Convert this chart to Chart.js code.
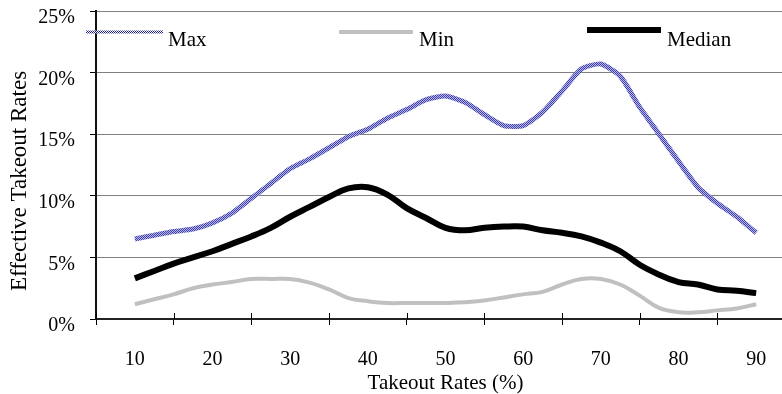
<!DOCTYPE html>
<html>
<head>
<meta charset="utf-8">
<title>Effective Takeout Rates</title>
<script src="https://cdn.jsdelivr.net/npm/chart.js@4.4.1/dist/chart.umd.min.js"></script>
<style>
  html, body { margin: 0; padding: 0; background: #fff; overflow: hidden; }
  canvas { display: block; }
</style>
</head>
<body>
<canvas id="c" width="820" height="394"></canvas>
<script>
// Takeout rate (%) at which each effective rate was sampled
const takeoutRates = [10, 12.5, 15, 17.5, 20, 22.5, 25, 27.5, 30, 32.5, 35, 37.5, 40, 42.5, 45, 47.5,
  50, 52.5, 55, 57.5, 60, 62.5, 65, 67.5, 70, 72.5, 75, 77.5, 80, 82.5, 85, 87.5, 90];

// Effective takeout rates (%)
const maxRates = [6.5, 6.8, 7.1, 7.3, 7.8, 8.6, 9.8, 11.0, 12.2, 13.0, 13.9, 14.8, 15.4, 16.3, 17.0, 17.8,
  18.1, 17.6, 16.6, 15.7, 15.7, 16.8, 18.5, 20.3, 20.7, 19.7, 17.2, 15.0, 12.8, 10.7, 9.4, 8.3, 7.0];
const minRates = [1.2, 1.6, 2.0, 2.5, 2.8, 3.0, 3.25, 3.25, 3.25, 2.95, 2.4, 1.7, 1.45, 1.3, 1.3, 1.3,
  1.3, 1.35, 1.5, 1.75, 2.0, 2.2, 2.8, 3.25, 3.25, 2.8, 1.9, 0.9, 0.55, 0.55, 0.7, 0.85, 1.2];
const medianRates = [3.3, 3.9, 4.5, 5.0, 5.5, 6.1, 6.7, 7.4, 8.3, 9.1, 9.9, 10.6, 10.7, 10.1, 9.0, 8.2,
  7.4, 7.2, 7.4, 7.5, 7.5, 7.2, 7.0, 6.7, 6.2, 5.5, 4.4, 3.6, 3.0, 2.8, 2.4, 2.3, 2.1];

// Axis labels
const xTickLabels = [10, 20, 30, 40, 50, 60, 70, 80, 90];
const yTickValues = [0, 5, 10, 15, 20, 25];
const seriesNames = ['Max', 'Min', 'Median'];
const xTitle = 'Takeout Rates (%)';
const yTitle = 'Effective Takeout Rates';

const FONT = '"Liberation Serif", "Times New Roman", Times, serif';

// Checkered fill used for the Max series stroke
function checker(ctx, a, b) {
  const pc = document.createElement('canvas');
  pc.width = 2; pc.height = 2;
  const p = pc.getContext('2d');
  p.fillStyle = b; p.fillRect(0, 0, 2, 2);
  p.fillStyle = a; p.fillRect(0, 0, 1, 1); p.fillRect(1, 1, 1, 1);
  return ctx.createPattern(pc, 'repeat');
}

const canvas = document.getElementById('c');
const ctx = canvas.getContext('2d');
const maxStroke = checker(ctx, '#4040ac', '#b8b8e8');
const maxLegendStroke = checker(ctx, '#1a1a90', '#ffffff');

const toPoints = vals => takeoutRates.map((x, i) => ({ x: x, y: vals[i] }));

// Tick marks on the category boundaries, crossing the x axis
const boundaryTicks = xTickLabels.map(v => v - 5).concat([xTickLabels[xTickLabels.length - 1] + 5]);

const crossTicks = {
  id: 'crossTicks',
  afterDraw(chart) {
    const xs = chart.scales.x;
    const c = chart.ctx;
    const y0 = xs.top;
    c.save();
    c.strokeStyle = '#000';
    c.lineWidth = 1;
    boundaryTicks.forEach(v => {
      const px = Math.round(xs.getPixelForValue(v)) + 0.5;
      c.beginPath();
      c.moveTo(px, y0 - 6);
      c.lineTo(px, y0);
      c.stroke();
    });
    c.restore();
  }
};

// Legend row inside the plot area plus the rotated y title
const legendAndTitle = {
  id: 'legendAndTitle',
  afterDraw(chart) {
    const c = chart.ctx;
    const items = [
      { x0: 86, x1: 163, y: 32, w: 3, stroke: maxLegendStroke, tx: 168 },
      { x0: 339, x1: 413, y: 32, w: 4, stroke: '#c0c0c0', tx: 419 },
      { x0: 587, x1: 661, y: 30, w: 6, stroke: '#000000', tx: 667 }
    ];
    c.save();
    items.forEach((it, i) => {
      c.beginPath();
      c.strokeStyle = it.stroke;
      c.lineWidth = it.w;
      c.lineCap = 'butt';
      c.moveTo(it.x0, it.y);
      c.lineTo(it.x1, it.y);
      c.stroke();
      c.fillStyle = '#000';
      c.font = '21px ' + FONT;
      c.textAlign = 'left';
      c.textBaseline = 'alphabetic';
      c.fillText(seriesNames[i], it.tx, 46);
    });
    c.translate(20, 181);
    c.rotate(-Math.PI / 2);
    c.font = '23px ' + FONT;
    c.textAlign = 'center';
    c.textBaseline = 'middle';
    c.fillStyle = '#000';
    c.fillText(yTitle, 0, 0);
    c.restore();
  }
};

new Chart(ctx, {
  type: 'line',
  data: {
    datasets: [
      { label: seriesNames[0], data: toPoints(maxRates), borderColor: maxStroke, borderWidth: 5,
        pointRadius: 0, tension: 0.2, fill: false },
      { label: seriesNames[1], data: toPoints(minRates), borderColor: '#c0c0c0', borderWidth: 4,
        pointRadius: 0, tension: 0.4, fill: false },
      { label: seriesNames[2], data: toPoints(medianRates), borderColor: '#000000', borderWidth: 6,
        pointRadius: 0, tension: 0.4, fill: false }
    ]
  },
  options: {
    responsive: false,
    devicePixelRatio: 1,
    animation: false,
    layout: { padding: { left: 0, top: 11, right: 25, bottom: 0 } },
    plugins: {
      legend: { display: false },
      tooltip: { enabled: false }
    },
    scales: {
      x: {
        type: 'linear',
        min: 5,
        max: 95,
        afterBuildTicks(scale) {
          const vals = boundaryTicks.concat(xTickLabels).sort((a, b) => a - b);
          scale.ticks = vals.map(v => ({ value: v }));
        },
        afterFit(scale) {
          scale.height = 75;
          scale.paddingLeft = 0;
          scale.paddingRight = 0;
        },
        ticks: {
          autoSkip: false,
          maxRotation: 0,
          padding: 23,
          color: '#000',
          font: { family: FONT, size: 20 },
          callback: v => (xTickLabels.includes(v) ? String(v) : '')
        },
        grid: {
          drawOnChartArea: false,
          drawTicks: true,
          tickLength: 6,
          tickWidth: 1,
          tickColor: c => (xTickLabels.includes(c.tick && c.tick.value) ? 'rgba(0,0,0,0)' : '#000')
        },
        border: { color: '#222', width: 2 },
        title: {
          display: true,
          text: xTitle,
          color: '#000',
          font: { family: FONT, size: 21 },
          padding: { top: 4, bottom: -2 }
        }
      },
      y: {
        min: 0,
        max: 25,
        afterBuildTicks(scale) { scale.ticks = yTickValues.map(v => ({ value: v })); },
        afterFit(scale) {
          scale.width = 96;
          scale.paddingTop = 0;
          scale.paddingBottom = 0;
        },
        ticks: {
          padding: 15,
          labelOffset: 7,
          color: '#000',
          font: { family: FONT, size: 20 },
          callback: v => v + '%'
        },
        grid: {
          color: '#808080',
          lineWidth: 1,
          tickLength: 6,
          tickColor: '#000'
        },
        border: { color: '#111', width: 2 }
      }
    }
  },
  plugins: [crossTicks, legendAndTitle]
});
</script>
</body>
</html>
